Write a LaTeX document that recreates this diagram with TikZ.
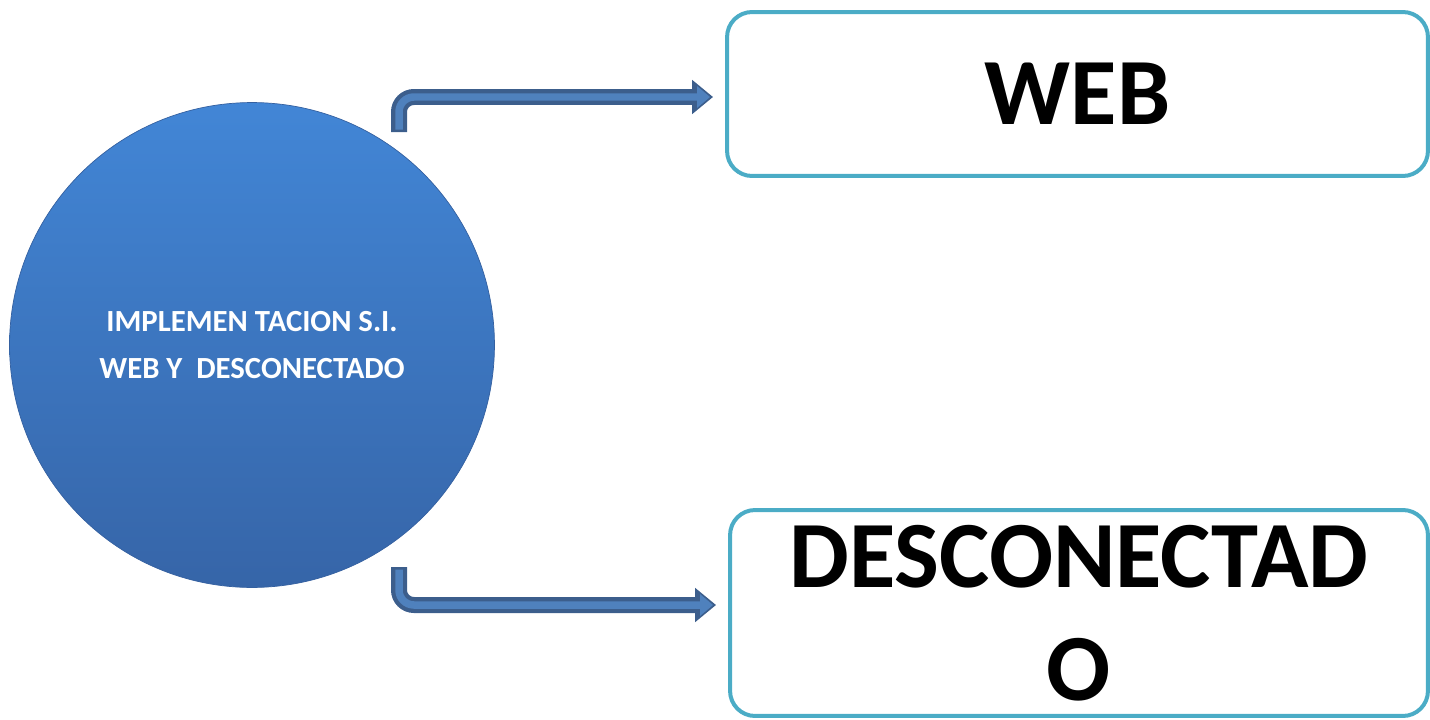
\documentclass[tikz,border=0pt]{standalone}
\usepackage{fontspec}
\setmainfont{Carlito}
\usetikzlibrary{arrows.meta}
\definecolor{ballTop}{RGB}{66,134,214}
\definecolor{ballBot}{RGB}{54,101,168}
\definecolor{ballEdge}{RGB}{52,96,160}
\definecolor{boxLine}{RGB}{75,172,198}
\definecolor{arrowDark}{RGB}{60,94,140}
\definecolor{arrowLight}{RGB}{79,129,189}
\tikzset{
  mainball/.style={circle, minimum size=9.7cm, inner sep=0pt, top color=ballTop, bottom color=ballBot, draw=ballEdge, line width=0.4pt, text=white, align=center, font=\bfseries\fontsize{17.5}{27}\selectfont},
  targetbox/.style={rectangle, rounded corners=0.5cm, draw=boxLine, line width=0.08cm, inner sep=0pt, align=center, font=\bfseries\fontsize{54}{64}\selectfont},
  flowouter/.style={draw=arrowDark, line width=0.32cm, rounded corners=0.3cm, shorten >=0.24cm, -{Triangle[length=0.42cm,width=0.66cm]}},
  flowinner/.style={draw=arrowLight, line width=0.15cm, rounded corners=0.3cm, shorten >=0.3cm, shorten <=0.05cm, -{Triangle[length=0.26cm,width=0.42cm]}}
}
\begin{document}
\begin{tikzpicture}[x=0.02cm,y=-0.02cm]
	\useasboundingbox (0,0) rectangle (1430,720);
	% centre circle
	\node[mainball] (ball) at (252,345) {IMPLEMEN TACION S.I.\\WEB Y \ DESCONECTADO};
	% targets
	\node[targetbox, minimum width=14.02cm, minimum height=3.28cm] (web) at (1077.5,94) {WEB};
	\node[targetbox, minimum width=13.96cm, minimum height=4.12cm] (desc) at (1079,613) {DESCONECTAD\\O};
	% arrows
	\coordinate (wstart) at (399,132);
	\coordinate (dstart) at (399,567);
	\draw[flowouter] (wstart) |- ([yshift=-0.06cm]web.west);
	\draw[flowinner] (wstart) |- ([yshift=-0.06cm]web.west);
	\draw[flowouter] (dstart) |- ([yshift=0.16cm]desc.west);
	\draw[flowinner] (dstart) |- ([yshift=0.16cm]desc.west);
\end{tikzpicture}
\end{document}
